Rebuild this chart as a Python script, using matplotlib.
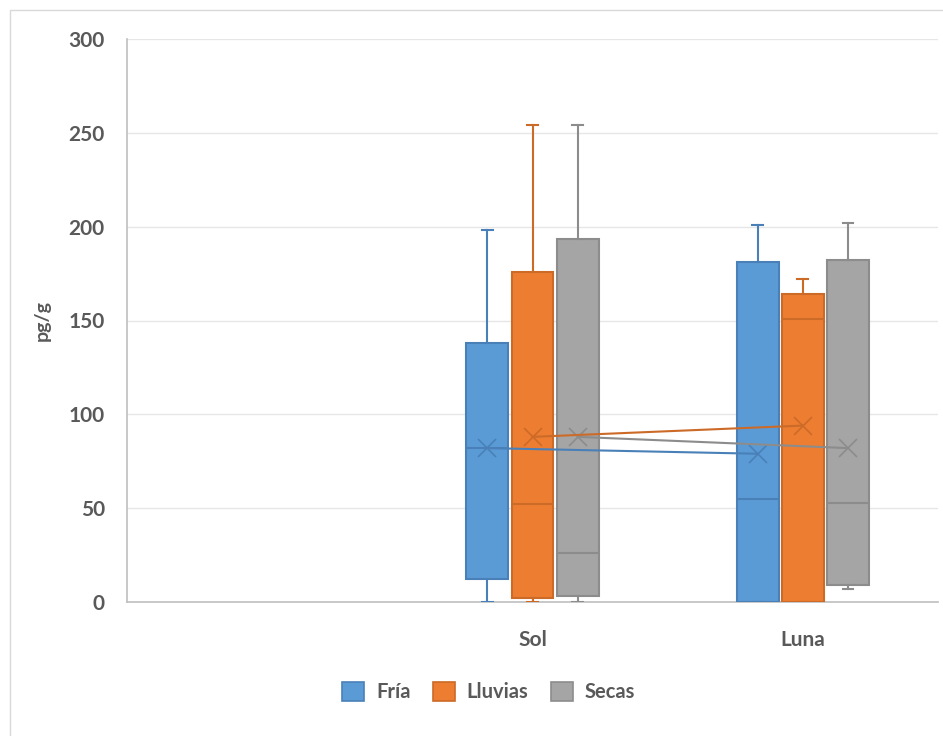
import matplotlib
matplotlib.use("Agg")
import matplotlib.pyplot as plt
from matplotlib.patches import Patch, Rectangle

categories = ["", "Sol", "Luna"]
series = ["Fría", "Lluvias", "Secas"]

# per series: values for Sol, Luna
whislo = {"Fría": [0, 0], "Lluvias": [0, 0], "Secas": [0, 7]}
q1 = {"Fría": [12, 0], "Lluvias": [2, 0], "Secas": [3, 9]}
med = {"Fría": [82, 55], "Lluvias": [52, 151], "Secas": [26, 53]}
q3 = {"Fría": [138, 181], "Lluvias": [176, 164], "Secas": [193.5, 182]}
whishi = {"Fría": [198, 201], "Lluvias": [254, 172], "Secas": [254, 202]}
mean = {"Fría": [82, 79], "Lluvias": [88, 94], "Secas": [88, 82]}

fills = {"Fría": "#5B9BD5", "Lluvias": "#ED7D31", "Secas": "#A5A5A5"}
edges = {"Fría": "#4A80B8", "Lluvias": "#CC6A28", "Secas": "#8C8C8C"}

txt = "#595959"
plt.rcParams["font.family"] = ["Lato", "DejaVu Sans"]

fig = plt.figure(figsize=(9.43, 7.36), dpi=100)
fig.patches.append(Rectangle((10 / 943, -0.1), 1.2, 1 - 10 / 736 + 0.1,
                             transform=fig.transFigure, fill=False,
                             edgecolor="#d9d9d9", lw=1))
ax = fig.add_axes([127 / 943, 1 - 602 / 736, (938 - 127) / 943, (602 - 39) / 736])

offsets = [-0.167, 0, 0.167]
width = 0.155
for s, off in zip(series, offsets):
    stats = []
    pos = []
    for i in range(2):
        stats.append(dict(whislo=whislo[s][i], q1=q1[s][i], med=med[s][i],
                          q3=q3[s][i], whishi=whishi[s][i], mean=mean[s][i],
                          fliers=[]))
        pos.append(i + 1 + off)
    ax.bxp(stats, positions=pos, widths=width, patch_artist=True,
           showmeans=True, meanline=False,
           boxprops=dict(facecolor=fills[s], edgecolor=edges[s], lw=1.5),
           medianprops=dict(color=edges[s], lw=1.5),
           whiskerprops=dict(color=edges[s], lw=1.5),
           capprops=dict(color=edges[s], lw=1.5),
           capwidths=0.04,
           meanprops=dict(marker="x", markeredgecolor=edges[s],
                          markersize=13, markeredgewidth=1.2),
           zorder=3, manage_ticks=False)
    ax.plot(pos, mean[s], color=edges[s], lw=1.5, zorder=4)

ax.set_xlim(-0.5, 2.5)
ax.set_ylim(0, 300)
ax.set_yticks(range(0, 301, 50))
ax.set_xticks(range(len(categories)))
ax.set_xticklabels(categories)
ax.grid(axis="y", color="#e6e6e6", lw=1)
ax.set_axisbelow(True)
for sp in ["top", "right"]:
    ax.spines[sp].set_visible(False)
ax.spines["left"].set_color("#bfbfbf")
ax.spines["bottom"].set_color("#bfbfbf")
ax.spines["left"].set_linewidth(1.2)
ax.spines["bottom"].set_linewidth(1.2)
ax.tick_params(length=0, labelsize=15, labelcolor=txt, pad=16)
ax.tick_params(axis="x", pad=20)
for lab in ax.get_xticklabels() + ax.get_yticklabels():
    lab.set_fontweight("bold")
ax.set_ylabel("pg/g", fontsize=14, color=txt, fontweight="bold", labelpad=13)

handles = [Patch(facecolor=fills[s], edgecolor=edges[s], lw=1.2, label=s) for s in series]
fig.legend(handles=handles, loc="center", bbox_to_anchor=(0.518, 1 - 692 / 736),
           ncol=3, frameon=False, handlelength=1.1, handleheight=1.1,
           columnspacing=1.1, handletextpad=0.6,
           prop=dict(size=14.5, weight="bold"), labelcolor=txt)

fig.savefig("out.png", dpi=100, facecolor="white")
